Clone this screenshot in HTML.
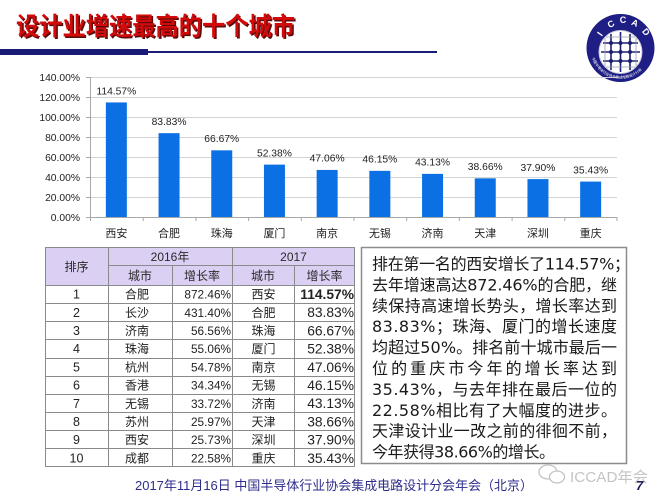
<!DOCTYPE html>
<html><head><meta charset="utf-8"><style>
html,body{margin:0;padding:0;background:#fff;}
svg{display:block;}
text{font-family:"Liberation Sans","Noto Sans CJK SC",sans-serif;}
.cj{font-family:"Liberation Sans","Noto Sans CJK SC",sans-serif;}
.dv{font-family:"DejaVu Sans","Noto Sans CJK SC",sans-serif;}
</style></head><body>
<svg width="672" height="504" viewBox="0 0 672 504" xmlns="http://www.w3.org/2000/svg">
<rect width="672" height="504" fill="#fff"/>
<!-- Title -->
<text x="17.5" y="36.5" font-size="25" font-weight="bold" fill="#5a0a0a" textLength="279" lengthAdjust="spacingAndGlyphs">设计业增速最高的十个城市</text>
<text x="16" y="35" font-size="25" font-weight="bold" fill="#d20a0a" textLength="279" lengthAdjust="spacingAndGlyphs">设计业增速最高的十个城市</text>
<rect x="0" y="49" width="148" height="6" fill="#1c1a78"/>
<rect x="148" y="51" width="289" height="2" fill="#1c1a78"/>

<!-- Logo -->
<g>
<circle cx="620.5" cy="48" r="34" fill="#1e1e84"/>
<circle cx="620.5" cy="52" r="21.5" fill="#fff" stroke="#c8c8d8" stroke-width="1"/>
<g stroke="#1e1e70" stroke-width="1.6">
<line x1="611" y1="34" x2="611" y2="70"/>
<line x1="620.5" y1="32" x2="620.5" y2="72"/>
<line x1="630" y1="34" x2="630" y2="70"/>
<line x1="603" y1="43" x2="638" y2="43"/>
<line x1="601" y1="52" x2="640" y2="52"/>
<line x1="603" y1="61" x2="638" y2="61"/>
</g>
<g stroke="#9a9ab0" stroke-width="0.8">
<line x1="605" y1="38" x2="605" y2="66"/>
<line x1="636" y1="38" x2="636" y2="66"/>
<line x1="606" y1="67" x2="635" y2="67"/>
<line x1="606" y1="37" x2="635" y2="37"/>
</g>
<g fill="#1e1e70">
<circle cx="611" cy="43" r="2"/><circle cx="620.5" cy="43" r="2"/><circle cx="630" cy="43" r="2"/>
<circle cx="611" cy="52" r="2"/><circle cx="620.5" cy="52" r="2"/><circle cx="630" cy="52" r="2"/>
<circle cx="611" cy="61" r="2"/><circle cx="620.5" cy="61" r="2"/><circle cx="630" cy="61" r="2"/>
</g>
<g fill="#fff" font-size="9" font-weight="bold" text-anchor="middle">
<text x="600" y="37" transform="rotate(-55 600 34)">I</text>
<text x="611" y="27" transform="rotate(-30 611 24)">C</text>
<text x="623" y="23">C</text>
<text x="635" y="26" transform="rotate(25 635 23)">A</text>
<text x="646" y="35" transform="rotate(50 646 32)">D</text>
</g>
<path id="lp" d="M592 58 A30 30 0 0 0 649 58" fill="none"/>
<text font-size="3.6" fill="#fff"><textPath href="#lp">中国半导体行业协会集成电路设计分会</textPath></text>
</g>

<!-- Chart gridlines -->
<g stroke="#d4d4d4" stroke-width="1">
<line x1="90" y1="77.5" x2="617" y2="77.5"/>
<line x1="90" y1="97.5" x2="617" y2="97.5"/>
<line x1="90" y1="117.5" x2="617" y2="117.5"/>
<line x1="90" y1="137.5" x2="617" y2="137.5"/>
<line x1="90" y1="157.5" x2="617" y2="157.5"/>
<line x1="90" y1="177.5" x2="617" y2="177.5"/>
<line x1="90" y1="197.5" x2="617" y2="197.5"/>
</g>
<g stroke="#a8a8a8" stroke-width="1">
<line x1="90.5" y1="77" x2="90.5" y2="217"/>
<line x1="90" y1="217.5" x2="617" y2="217.5"/>
<line x1="86" y1="77.5" x2="90" y2="77.5"/>
<line x1="86" y1="97.5" x2="90" y2="97.5"/>
<line x1="86" y1="117.5" x2="90" y2="117.5"/>
<line x1="86" y1="137.5" x2="90" y2="137.5"/>
<line x1="86" y1="157.5" x2="90" y2="157.5"/>
<line x1="86" y1="177.5" x2="90" y2="177.5"/>
<line x1="86" y1="197.5" x2="90" y2="197.5"/>
<line x1="86" y1="217.5" x2="90" y2="217.5"/>
<line x1="90.5" y1="217" x2="90.5" y2="221"/>
<line x1="143.2" y1="217" x2="143.2" y2="221"/>
<line x1="195.9" y1="217" x2="195.9" y2="221"/>
<line x1="248.6" y1="217" x2="248.6" y2="221"/>
<line x1="301.3" y1="217" x2="301.3" y2="221"/>
<line x1="354" y1="217" x2="354" y2="221"/>
<line x1="406.7" y1="217" x2="406.7" y2="221"/>
<line x1="459.4" y1="217" x2="459.4" y2="221"/>
<line x1="512.1" y1="217" x2="512.1" y2="221"/>
<line x1="564.8" y1="217" x2="564.8" y2="221"/>
<line x1="617" y1="217" x2="617" y2="221"/>
</g>
<g font-size="10.3" fill="#222" text-anchor="end">
<text x="80" y="81">140.00%</text>
<text x="80" y="101">120.00%</text>
<text x="80" y="121">100.00%</text>
<text x="80" y="141">80.00%</text>
<text x="80" y="161">60.00%</text>
<text x="80" y="181">40.00%</text>
<text x="80" y="201">20.00%</text>
<text x="80" y="221">0.00%</text>
</g>
<!-- Bars -->
<g fill="#0b70e4">
<rect x="105.85" y="102.43" width="21" height="114.57"/>
<rect x="158.55" y="133.17" width="21" height="83.83"/>
<rect x="211.25" y="150.33" width="21" height="66.67"/>
<rect x="263.95" y="164.62" width="21" height="52.38"/>
<rect x="316.65" y="169.94" width="21" height="47.06"/>
<rect x="369.35" y="170.85" width="21" height="46.15"/>
<rect x="422.05" y="173.87" width="21" height="43.13"/>
<rect x="474.75" y="178.34" width="21" height="38.66"/>
<rect x="527.45" y="179.1" width="21" height="37.9"/>
<rect x="580.15" y="181.57" width="21" height="35.43"/>
</g>
<g font-size="10.3" fill="#222" text-anchor="middle">
<text x="116.35" y="94.5">114.57%</text>
<text x="169.05" y="125">83.83%</text>
<text x="221.75" y="142">66.67%</text>
<text x="274.45" y="156.5">52.38%</text>
<text x="327.15" y="161.5">47.06%</text>
<text x="379.85" y="162.5">46.15%</text>
<text x="432.55" y="165.5">43.13%</text>
<text x="485.25" y="170">38.66%</text>
<text x="537.95" y="171">37.90%</text>
<text x="590.65" y="173.5">35.43%</text>
</g>
<g font-size="11" fill="#222" text-anchor="middle">
<text x="116.35" y="237">西安</text>
<text x="169.05" y="237">合肥</text>
<text x="221.75" y="237">珠海</text>
<text x="274.45" y="237">厦门</text>
<text x="327.15" y="237">南京</text>
<text x="379.85" y="237">无锡</text>
<text x="432.55" y="237">济南</text>
<text x="485.25" y="237">天津</text>
<text x="537.95" y="237">深圳</text>
<text x="590.65" y="237">重庆</text>
</g>

<!-- Table -->
<rect x="45" y="247" width="310" height="38" fill="#dccff4"/>
<g stroke="#8a8a8a" stroke-width="1" fill="none">
<rect x="45.5" y="247.5" width="309" height="219"/>
<line x1="108.5" y1="247" x2="108.5" y2="467"/>
<line x1="232.5" y1="247" x2="232.5" y2="467"/>
<line x1="172.5" y1="265" x2="172.5" y2="467"/>
<line x1="294.5" y1="265" x2="294.5" y2="467"/>
<line x1="108" y1="265.5" x2="355" y2="265.5"/>
<line x1="45" y1="285.5" x2="355" y2="285.5"/>
<line x1="45" y1="303.5" x2="355" y2="303.5"/>
<line x1="45" y1="321.5" x2="355" y2="321.5"/>
<line x1="45" y1="339.5" x2="355" y2="339.5"/>
<line x1="45" y1="358.5" x2="355" y2="358.5"/>
<line x1="45" y1="376.5" x2="355" y2="376.5"/>
<line x1="45" y1="394.5" x2="355" y2="394.5"/>
<line x1="45" y1="412.5" x2="355" y2="412.5"/>
<line x1="45" y1="430.5" x2="355" y2="430.5"/>
<line x1="45" y1="448.5" x2="355" y2="448.5"/>
</g>
<g font-size="12" fill="#2a2a2a" text-anchor="middle">
<text x="76.5" y="271">排序</text>
<text x="170" y="261">2016年</text>
<text x="293.5" y="261">2017</text>
<text x="140" y="280">城市</text>
<text x="202" y="280">增长率</text>
<text x="263" y="280">城市</text>
<text x="324.5" y="280">增长率</text>
</g>
<g font-size="12.5" fill="#222" text-anchor="middle">
<text x="76.5" y="298.6">1</text>
<text x="76.5" y="316.8">2</text>
<text x="76.5" y="335">3</text>
<text x="76.5" y="353.2">4</text>
<text x="76.5" y="371.4">5</text>
<text x="76.5" y="389.6">6</text>
<text x="76.5" y="407.8">7</text>
<text x="76.5" y="426">8</text>
<text x="76.5" y="444.2">9</text>
<text x="76.5" y="462.4">10</text>
</g>
<g font-size="12" fill="#222" text-anchor="middle">
<text x="137" y="298.6">合肥</text>
<text x="137" y="316.8">长沙</text>
<text x="137" y="335">济南</text>
<text x="137" y="353.2">珠海</text>
<text x="137" y="371.4">杭州</text>
<text x="137" y="389.6">香港</text>
<text x="137" y="407.8">无锡</text>
<text x="137" y="426">苏州</text>
<text x="137" y="444.2">西安</text>
<text x="137" y="462.4">成都</text>
<text x="263.5" y="298.6">西安</text>
<text x="263.5" y="316.8">合肥</text>
<text x="263.5" y="335">珠海</text>
<text x="263.5" y="353.2">厦门</text>
<text x="263.5" y="371.4">南京</text>
<text x="263.5" y="389.6">无锡</text>
<text x="263.5" y="407.8">济南</text>
<text x="263.5" y="426">天津</text>
<text x="263.5" y="444.2">深圳</text>
<text x="263.5" y="462.4">重庆</text>
</g>
<g font-size="11.8" fill="#222" text-anchor="end">
<text x="231" y="298.6">872.46%</text>
<text x="231" y="316.8">431.40%</text>
<text x="231" y="335">56.56%</text>
<text x="231" y="353.2">55.06%</text>
<text x="231" y="371.4">54.78%</text>
<text x="231" y="389.6">34.34%</text>
<text x="231" y="407.8">33.72%</text>
<text x="231" y="426">25.97%</text>
<text x="231" y="444.2">25.73%</text>
<text x="231" y="462.4">22.58%</text>
</g>
<g font-size="13.8" fill="#222" text-anchor="end">
<text x="354" y="299" font-weight="bold">114.57%</text>
<text x="354" y="317.2">83.83%</text>
<text x="354" y="335.4">66.67%</text>
<text x="354" y="353.6">52.38%</text>
<text x="354" y="371.8">47.06%</text>
<text x="354" y="390">46.15%</text>
<text x="354" y="408.2">43.13%</text>
<text x="354" y="426.4">38.66%</text>
<text x="354" y="444.6">37.90%</text>
<text x="354" y="462.8">35.43%</text>
</g>

<!-- Text box -->
<rect x="361.5" y="247.5" width="265" height="216" fill="#fff" stroke="#8c8c8c" stroke-width="1.5"/>
<g class="dv" font-size="16" fill="#1a1a1a" lengthAdjust="spacing">
<text class="dv" x="372" y="269.5" textLength="258" lengthAdjust="spacing">排在第一名的西安增长了114.57%；</text>
<text class="dv" x="372" y="290.4" textLength="245" lengthAdjust="spacing">去年增速高达872.46%的合肥，继</text>
<text class="dv" x="372" y="311.3" textLength="245" lengthAdjust="spacing">续保持高速增长势头，增长率达到</text>
<text class="dv" x="372" y="332.2" textLength="245" lengthAdjust="spacing">83.83%；珠海、厦门的增长速度</text>
<text class="dv" x="372" y="353.1" textLength="245" lengthAdjust="spacing">均超过50%。排名前十城市最后一</text>
<text class="dv" x="372" y="374" textLength="245" lengthAdjust="spacing">位的重庆市今年的增长率达到</text>
<text class="dv" x="372" y="394.9" textLength="245" lengthAdjust="spacing">35.43%，与去年排在最后一位的</text>
<text class="dv" x="372" y="415.8" textLength="245" lengthAdjust="spacing">22.58%相比有了大幅度的进步。</text>
<text class="dv" x="372" y="436.7" textLength="245" lengthAdjust="spacing">天津设计业一改之前的徘徊不前，</text>
<text class="dv" x="372" y="457.6" textLength="183" lengthAdjust="spacing">今年获得38.66%的增长。</text>
</g>

<!-- Footer -->
<text x="135" y="490" font-size="13" fill="#2e2d8c" textLength="398" lengthAdjust="spacingAndGlyphs">2017年11月16日 中国半导体行业协会集成电路设计分会年会（北京）</text>

<!-- Watermark -->
<g fill="none" stroke="#c4c4c4" stroke-width="1.3">
<ellipse cx="548" cy="472" rx="9" ry="7"/>
<ellipse cx="557" cy="477" rx="7.5" ry="6" fill="#fff"/>
</g>
<text x="570" y="482" font-size="15" fill="#c4c4c4" textLength="78" lengthAdjust="spacingAndGlyphs">ICCAD年会</text>
<text x="636" y="490" font-size="13" font-weight="bold" font-style="italic" fill="#1a1a5a">7</text>
</svg>
</body></html>
